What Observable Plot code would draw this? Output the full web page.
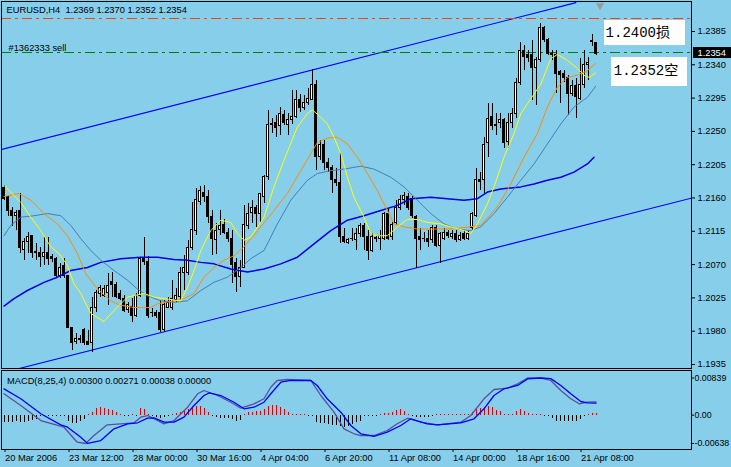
<!DOCTYPE html>
<html>
<head>
<meta charset="utf-8">
<script src="https://cdn.jsdelivr.net/npm/d3@7"></script>
<script src="https://cdn.jsdelivr.net/npm/@observablehq/plot@0.6"></script>
<style>
  html, body { margin: 0; padding: 0; background: #87CEEB; }
  #chart { width: 731px; height: 467px; overflow: hidden; }
  #chart svg { display: block; }
  #chart svg rect, #chart svg line { shape-rendering: crispEdges; }
</style>
</head>
<body>
<div id="chart"></div>
<script>
// ---------- DATA ----------
const symbol = "EURUSD,H4";
const opens = [1.2173,1.2161,1.2142,1.2136,1.2142,1.2090,1.2100,1.2108,1.2086,1.2086,
1.2080,1.2086,1.2080,1.2078,1.2055,1.2068,1.2054,1.1985,1.1965,1.1969,
1.1981,1.1965,1.1964,1.2012,1.2030,1.2028,1.2032,1.2047,1.2042,1.2030,
1.2024,1.2008,1.2013,1.2001,1.2028,1.2078,1.2074,1.2005,1.2005,1.2004,
1.1981,1.2012,1.2012,1.2022,1.2026,1.2059,1.2059,1.2093,1.2116,1.2154,
1.2167,1.2161,1.2134,1.2103,1.2117,1.2123,1.2113,1.2104,1.2072,1.2053,
1.2066,1.2122,1.2140,1.2146,1.2139,1.2162,1.2188,1.2259,1.2261,1.2257,
1.2272,1.2258,1.2265,1.2270,1.2293,1.2281,1.2288,1.2293,1.2313,1.2215,
1.2231,1.2207,1.2200,1.2184,1.2180,1.2107,1.2099,1.2104,1.2103,1.2112,
1.2122,1.2107,1.2089,1.2105,1.2105,1.2104,1.2138,1.2107,1.2126,1.2146,
1.2157,1.2162,1.2159,1.2134,1.2107,1.2104,1.2105,1.2103,1.2120,1.2095,
1.2105,1.2113,1.2107,1.2112,1.2103,1.2112,1.2104,1.2120,1.2136,1.2184,
1.2184,1.2234,1.2269,1.2257,1.2261,1.2265,1.2235,1.2261,1.2274,1.2316,
1.2358,1.2353,1.2353,1.2335,1.2346,1.2390,1.2373,1.2355,1.2353,1.2330,
1.2328,1.2322,1.2301,1.2311,1.2294,1.2312,1.2340,1.2372,1.2369];
const highs = [1.2177,1.2163,1.2147,1.2143,1.2166,1.2105,1.2113,1.2109,1.2099,1.2093,
1.2108,1.2107,1.2084,1.2080,1.2072,1.2078,1.2055,1.1985,1.1977,1.1974,
1.1984,1.1981,1.2026,1.2035,1.2042,1.2042,1.2058,1.2059,1.2046,1.2035,
1.2028,1.2019,1.2024,1.2031,1.2080,1.2107,1.2081,1.2011,1.2008,1.2022,
1.2022,1.2026,1.2049,1.2038,1.2066,1.2082,1.2103,1.2154,1.2173,1.2176,
1.2177,1.2170,1.2143,1.2126,1.2143,1.2131,1.2119,1.2116,1.2078,1.2076,
1.2150,1.2153,1.2157,1.2150,1.2166,1.2190,1.2278,1.2267,1.2272,1.2282,
1.2278,1.2274,1.2305,1.2305,1.2300,1.2299,1.2308,1.2334,1.2319,1.2238,
1.2238,1.2214,1.2204,1.2200,1.2220,1.2119,1.2105,1.2119,1.2119,1.2126,
1.2126,1.2116,1.2112,1.2109,1.2116,1.2140,1.2146,1.2127,1.2157,1.2163,
1.2167,1.2166,1.2162,1.2136,1.2119,1.2113,1.2116,1.2123,1.2123,1.2113,
1.2119,1.2116,1.2116,1.2116,1.2113,1.2116,1.2116,1.2140,1.2200,1.2194,
1.2242,1.2288,1.2288,1.2274,1.2274,1.2267,1.2274,1.2281,1.2322,1.2370,
1.2366,1.2359,1.2373,1.2350,1.2396,1.2392,1.2376,1.2359,1.2359,1.2332,
1.2332,1.2326,1.2319,1.2322,1.2349,1.2359,1.2350,1.2381,1.2370];
const lows = [1.2157,1.2135,1.2122,1.2116,1.2085,1.2076,1.2085,1.2078,1.2076,1.2066,
1.2069,1.2069,1.2073,1.2053,1.2051,1.2051,1.1984,1.1954,1.1962,1.1964,
1.1961,1.1961,1.1951,1.2005,1.2026,1.2026,1.2015,1.2026,1.2024,1.2022,
1.2005,1.2004,1.1992,1.1999,1.2026,1.2069,1.1997,1.1999,1.1997,1.1978,
1.1978,1.2011,1.2008,1.2019,1.2022,1.2035,1.2055,1.2089,1.2109,1.2150,
1.2154,1.2126,1.2082,1.2084,1.2109,1.2111,1.2100,1.2045,1.2032,1.2039,
1.2065,1.2117,1.2126,1.2120,1.2127,1.2153,1.2184,1.2247,1.2242,1.2245,
1.2258,1.2245,1.2259,1.2267,1.2276,1.2278,1.2285,1.2292,1.2197,1.2211,
1.2197,1.2194,1.2166,1.2176,1.2099,1.2099,1.2097,1.2101,1.2089,1.2107,
1.2089,1.2076,1.2086,1.2100,1.2089,1.2103,1.2103,1.2103,1.2123,1.2143,
1.2150,1.2143,1.2132,1.2065,1.2089,1.2100,1.2093,1.2099,1.2093,1.2072,
1.2103,1.2105,1.2104,1.2100,1.2101,1.2103,1.2103,1.2116,1.2134,1.2170,
1.2166,1.2215,1.2251,1.2245,1.2254,1.2227,1.2227,1.2254,1.2267,1.2312,
1.2332,1.2343,1.2292,1.2285,1.2343,1.2370,1.2353,1.2346,1.2301,1.2288,
1.2316,1.2272,1.2297,1.2267,1.2292,1.2308,1.2319,1.2365,1.2352];
const closes = [1.2159,1.2143,1.2135,1.2140,1.2092,1.2100,1.2107,1.2085,1.2087,1.2080,
1.2086,1.2077,1.2077,1.2055,1.2066,1.2055,1.1985,1.1964,1.1970,1.1968,
1.1964,1.1962,1.2012,1.2031,1.2038,1.2037,1.2041,1.2042,1.2026,1.2024,
1.2007,1.2015,1.2000,1.2028,1.2078,1.2073,1.2000,1.2004,1.2001,1.1981,
1.2015,1.2018,1.2024,1.2028,1.2059,1.2065,1.2093,1.2117,1.2157,1.2169,
1.2161,1.2134,1.2105,1.2116,1.2122,1.2113,1.2104,1.2070,1.2053,1.2066,
1.2124,1.2139,1.2146,1.2139,1.2165,1.2188,1.2258,1.2260,1.2254,1.2273,
1.2261,1.2265,1.2270,1.2293,1.2281,1.2289,1.2294,1.2313,1.2215,1.2231,
1.2207,1.2200,1.2184,1.2180,1.2107,1.2100,1.2103,1.2105,1.2112,1.2122,
1.2107,1.2089,1.2107,1.2106,1.2108,1.2138,1.2105,1.2124,1.2147,1.2157,
1.2163,1.2147,1.2135,1.2105,1.2103,1.2105,1.2101,1.2120,1.2095,1.2112,
1.2113,1.2108,1.2112,1.2103,1.2109,1.2105,1.2112,1.2138,1.2184,1.2181,
1.2231,1.2267,1.2257,1.2259,1.2266,1.2234,1.2261,1.2274,1.2316,1.2358,
1.2350,1.2349,1.2336,1.2346,1.2390,1.2373,1.2355,1.2353,1.2328,1.2326,
1.2322,1.2300,1.2311,1.2296,1.2313,1.2340,1.2342,1.2371,1.2354];

// moving averages (bar index, price)
const maFastIdx = [0,4.2,6.7,9.2,11.7,13.75,15.85,17.5,19.2,21.7,25,27.5,30.85,35,37.5,40,44.2,45.85,47.5,49.2,51.7,54.2,56.7,58.35,60,61.7,65,67.5,70,73.35,75.85,77.1,79.2,80.85,82.5,84.2,85.85,87.5,90,91.7,93.35,95.85,98.35,100.85,103.35,105.85,109.2,111.7,115,116.7,118.35,120.85,122.5,125,127.5,129.2,131.7,134.2,136.7,138.35,140.85,143.35,145,146.25,147.9];
const maFastVal = [1.2177,1.2154,1.2134,1.2116,1.2094,1.2085,1.2069,1.2044,1.2031,1.2004,1.1993,1.2008,1.2026,1.2031,1.2026,1.2024,1.2021,1.2039,1.2062,1.2089,1.2116,1.2130,1.2127,1.2112,1.2103,1.2107,1.2134,1.2175,1.2211,1.2256,1.2274,1.2279,1.2269,1.2260,1.2242,1.2220,1.2188,1.2161,1.2134,1.2112,1.2109,1.2109,1.2121,1.2131,1.2131,1.2127,1.2125,1.2121,1.2116,1.2112,1.2125,1.2152,1.2175,1.2215,1.2247,1.2274,1.2294,1.2314,1.2348,1.2354,1.2346,1.2335,1.2326,1.2323,1.2329];
const maMidIdx = [0,3.75,6.7,10,13.35,15.85,18.35,20.4,23.35,26.7,29.2,32.5,36.7,38.35,42.5,45,47.5,50,52.5,55,57.5,60,61.7,64.2,67.5,70.85,74.2,76.7,78.35,80.85,83.35,85.85,88.35,90.85,93.35,95.85,97.5,100,103.35,106.7,110.85,115,119.2,123.35,126.7,130,133.35,135.85,138.35,140.85,143.35,145.85,147.9];
const maMidVal = [1.2162,1.2166,1.2157,1.2139,1.2125,1.2109,1.2085,1.2058,1.2037,1.2021,1.2015,1.2012,1.2012,1.2017,1.2021,1.2024,1.2031,1.2053,1.2066,1.2076,1.2082,1.2094,1.2105,1.2121,1.2143,1.2166,1.2197,1.2220,1.2235,1.2241,1.2242,1.2233,1.2215,1.2193,1.2170,1.2143,1.2125,1.2121,1.2118,1.2118,1.2118,1.2120,1.2123,1.2148,1.2179,1.2215,1.2247,1.2283,1.2310,1.2323,1.2326,1.2332,1.2342];
const maSlowIdx = [0,1.7,4.2,7.5,10.85,14.2,16.7,19.2,21.7,24.2,27.5,30.85,33.35,35.85,39.2,42.5,45.85,49.2,52.5,55.85,59.2,61.7,65,68.35,71.7,75.85,78.35,81.7,85,89.2,92.5,96.7,100,103.35,106.7,110,113.35,116.7,119.2,122.5,125.85,129.2,132.5,135.85,139.2,142.5,145.85,147.9];
const maSlowVal = [1.2109,1.2123,1.2134,1.2136,1.2139,1.2136,1.2123,1.2105,1.2089,1.2076,1.2062,1.2049,1.2037,1.2028,1.2021,1.2019,1.2021,1.2035,1.2046,1.2053,1.2066,1.2078,1.2089,1.2125,1.2157,1.2184,1.2193,1.2197,1.2199,1.2203,1.2199,1.2188,1.2175,1.2157,1.2139,1.2125,1.2118,1.2116,1.2121,1.2139,1.2161,1.2184,1.2206,1.2233,1.2260,1.2283,1.2296,1.2311];
const maLongIdx = [0,2.5,5.85,10,13.35,16.7,20.85,24.2,29.2,34.2,38.35,42.5,45.85,49.2,52.5,56.7,60.85,65,69.2,73.35,77.5,81.7,85.85,90,94.2,98.35,101.7,106.7,110.85,115,118.35,120.85,124.2,129.2,132.5,135.85,139.2,142.5,145.85,147.5];
const maLongVal = [1.2014,1.2024,1.2035,1.2046,1.2053,1.2062,1.2066,1.2073,1.2078,1.2080,1.2080,1.2077,1.2076,1.2073,1.2071,1.2064,1.2060,1.2064,1.2071,1.2080,1.2098,1.2116,1.2130,1.2136,1.2143,1.2150,1.2159,1.2161,1.2159,1.2157,1.2159,1.2168,1.2172,1.2175,1.2179,1.2184,1.2188,1.2195,1.2206,1.2215];

// trend channel anchors (bar index, price)
const channelUpperIdx = [-1, 143];
const channelUpperVal = [1.2225, 1.2424];
const channelLowerIdx = [-1, 172];
const channelLowerVal = [1.1923, 1.2160];

// order lines
const stopLevel = 1.2402;
const orderLevel = 1.2356;
const orderLabel = "#1362333 sell";
const noteTexts = ["1.2400损", "1.2352空"];

// MACD(8,25,4)
const macdParams = [8, 25, 4];
const macdIdx = [0,4.2,9.2,15,18.3,20.4,22.5,25.8,29.2,32.5,34.2,35.9,37.5,40,42.5,45.9,48.4,50,53.4,56.7,59.2,62.5,65,66.7,68.3,70.9,76.7,79.2,82.5,85,87.5,89.2,92.5,95.8,98.3,100.9,104.2,108.4,114.2,116.7,120,122.5,125.9,128.4,130.9,134.2,136.7,139.2,141.7,143.8,145.8,148];
const macdVal = [0.00483,0.00219,-0.00120,-0.00271,-0.00609,-0.00638,-0.00458,-0.00217,-0.00194,-0.00171,-0.00045,-0.00007,-0.00081,-0.00194,-0.00120,0.00180,0.00483,0.00557,0.00444,0.00293,0.00158,0.00257,0.00370,0.00631,0.00783,0.00805,0.00783,0.00444,0.00068,-0.00307,-0.00419,-0.00458,-0.00458,-0.00345,-0.00194,-0.00068,-0.00158,-0.00217,-0.00158,-0.00007,0.00370,0.00580,0.00609,0.00708,0.00839,0.00839,0.00783,0.00557,0.00370,0.00257,0.00293,0.00300];
const signalIdx = [0,4.2,9.2,14.2,15.9,19.2,20.9,24.2,27.5,30.9,33.4,35.9,37.5,40,42.5,45,47.5,50,51.3,54.2,57.5,60,62.5,65,66.7,69.2,71.7,76.7,78.3,80.8,84.2,86.7,89.2,92.5,95.8,99.2,101.7,105.8,108.4,114.2,117.5,120,122.5,125,128.4,130.9,134.2,136.7,139.2,141.7,144.2,145.8,148];
const signalVal = [0.00595,0.00370,0.00032,-0.00217,-0.00271,-0.00496,-0.00638,-0.00571,-0.00307,-0.00194,-0.00171,-0.00068,-0.00059,-0.00158,-0.00158,-0.00045,0.00219,0.00444,0.00505,0.00444,0.00293,0.00144,0.00180,0.00293,0.00483,0.00744,0.00783,0.00783,0.00670,0.00370,0.00068,-0.00232,-0.00419,-0.00480,-0.00383,-0.00232,-0.00081,-0.00194,-0.00217,-0.00171,-0.00081,0.00144,0.00444,0.00595,0.00670,0.00820,0.00839,0.00825,0.00670,0.00483,0.00309,0.00280,0.00271];
const macdHist = [-0.00158,-0.00158,-0.00158,-0.00135,-0.00158,-0.00158,-0.00135,-0.00113,-0.00090,
-0.00023,-0.00023,-0.00023,-0.00023,-0.00023,-0.00023,-0.00023,
-0.00135,-0.00180,-0.00180,-0.00135,-0.00090,
0.00023,0.00068,0.00158,0.00180,0.00158,0.00135,0.00113,0.00068,0.00023,
-0.00023,-0.00023,0.00023,-0.00023,
0.00158,0.00135,
0.00023,-0.00023,-0.00045,-0.00068,-0.00045,-0.00023,
0.00023,0.00045,0.00068,0.00090,0.00135,0.00180,0.00203,0.00203,0.00158,0.00068,
-0.00023,-0.00045,-0.00068,-0.00068,-0.00068,-0.00090,-0.00135,-0.00113,
0.00023,0.00068,0.00068,0.00090,0.00090,0.00135,0.00203,0.00226,0.00226,0.00180,0.00135,0.00068,0.00023,
0.00023,0.00023,0.00023,-0.00023,-0.00023,
-0.00158,-0.00180,-0.00180,-0.00203,-0.00226,-0.00226,-0.00248,-0.00271,-0.00248,-0.00203,-0.00158,-0.00135,
-0.00023,-0.00023,-0.00023,-0.00023,
0.00023,0.00045,0.00045,0.00068,0.00113,0.00135,0.00090,0.00023,
-0.00023,-0.00045,-0.00045,-0.00045,-0.00045,-0.00023,0.00023,
0.00023,0.00023,0.00023,0.00023,0.00023,0.00023,0.00023,0.00023,
0.00068,0.00135,0.00158,0.00180,0.00203,0.00180,0.00113,0.00090,0.00023,0.00023,0.00023,
0.00090,0.00135,0.00090,0.00045,0.00023,0.00023,0.00023,-0.00023,
-0.00023,-0.00068,-0.00135,-0.00135,-0.00135,-0.00135,-0.00135,-0.00135,-0.00090,-0.00023,0.00023,
0.00045,0.00038];

// axis ticks
const priceTicks = [1.1935,1.1980,1.2025,1.2070,1.2115,1.2160,1.2205,1.2250,1.2295,1.2340,1.2385];
const macdTicks = [-0.00638, 0, 0.00839];
const macdTickLabels = ["-0.00638", "0.00", "0.00839"];
const timeTickIdx = [0,16,32,48,64,80,96,112,128,144];
const timeTickLabels = ["20 Mar 2006","23 Mar 12:00","28 Mar 00:00","30 Mar 16:00","4 Apr 04:00","6 Apr 20:00","11 Apr 08:00","14 Apr 00:00","18 Apr 16:00","21 Apr 08:00"];

// ---------- CHART ----------
const bars = opens.map((o, i) => ({i, o, h: highs[i], l: lows[i], c: closes[i]}));
const n = bars.length;
const last = bars[n - 1];
const pts = (idx, val) => idx.map((x, k) => ({x, y: val[k]}));
const xDomain = [-0.625, 171.875];
const sans = "'Liberation Sans', Arial, sans-serif";
const mono = "'Liberation Mono', 'DejaVu Sans Mono', 'Noto Sans CJK SC', monospace";
const bg = "#87CEEB";
const dashDot = "10,4,3,4";
const f4 = d => d.toFixed(4);
const f5 = d3.format(".5f");

const noteLayout = [
  {text: noteTexts[0], x1: 150.1, x2: 170.4, top: 1.2400, bottom: 1.2366, tx: 150.4, ty: 1.2377},
  {text: noteTexts[1], x1: 151.9, x2: 170.9, top: 1.2350, bottom: 1.2311, tx: 152.45, ty: 1.2326}
];

const header = `${symbol}\u00a0\u00a0${f4(last.o)} ${f4(last.h)} ${f4(last.l)} ${f4(last.c)}`;

const main = Plot.plot({
  width: 731, height: 369,
  marginLeft: 1, marginRight: 40, marginTop: 1, marginBottom: 1,
  style: {background: bg, color: "black", fontFamily: sans, fontSize: "9.3px", overflow: "visible"},
  x: {domain: xDomain, axis: null},
  y: {domain: [1.19296, 1.24255], axis: null},
  marks: [
    Plot.line(pts(channelUpperIdx, channelUpperVal), {x: "x", y: "y", stroke: "#0000ff", strokeWidth: 1.1, clip: true}),
    Plot.line(pts(channelLowerIdx, channelLowerVal), {x: "x", y: "y", stroke: "#0000ff", strokeWidth: 1.1, clip: true}),
    Plot.ruleY([stopLevel], {stroke: "#ff4000", strokeDasharray: dashDot}),
    Plot.ruleY([orderLevel], {stroke: "#008000", strokeDasharray: dashDot}),
    Plot.ruleX(bars, {x: "i", y1: "l", y2: "h", stroke: "black", strokeWidth: 1}),
    Plot.rect(bars, {x1: d => d.i - 0.25, x2: d => d.i + 0.25, y1: "o", y2: "c",
      fill: d => d.c > d.o ? "white" : "black", stroke: "black", strokeWidth: 1, inset: 0}),
    Plot.line(pts(maLongIdx, maLongVal), {x: "x", y: "y", stroke: "#0000dd", strokeWidth: 1.5}),
    Plot.line(pts(maSlowIdx, maSlowVal), {x: "x", y: "y", stroke: "#4a7db5", strokeWidth: 1}),
    Plot.line(pts(maMidIdx, maMidVal), {x: "x", y: "y", stroke: "#ff8c00", strokeWidth: 1}),
    Plot.line(pts(maFastIdx, maFastVal), {x: "x", y: "y", stroke: "#ffff00", strokeWidth: 1}),
    Plot.text([header], {frameAnchor: "top-left", dx: 5, dy: 5, lineAnchor: "top", textAnchor: "start", text: d => d}),
    Plot.text([{label: orderLabel, level: orderLevel}], {y: "level", text: "label", frameAnchor: "left", dx: 7, dy: -2, lineAnchor: "bottom", textAnchor: "start"}),
    Plot.rect(noteLayout, {x1: "x1", x2: "x2", y1: "top", y2: "bottom", fill: "white", inset: 0}),
    Plot.text(noteLayout, {x: "tx", y: "ty", text: "text", textAnchor: "start", lineAnchor: "bottom", fontFamily: mono, fontSize: 14, fill: "black"}),
    Plot.dot([n], {x: d => d, frameAnchor: "top", dy: 4, symbol: "triangle", rotate: 180, r: 3, fill: "#9a9a9a", stroke: "none"}),
    Plot.axisY(priceTicks, {anchor: "right", tickSize: 3, tickPadding: 3, tickFormat: f4, label: null}),
    Plot.ruleY([last.c], {x1: xDomain[1] + 0.5, x2: xDomain[1] + 10, stroke: "black", strokeWidth: 11, dy: -1.5}),
    Plot.text([last.c], {y: d => d, x: xDomain[1] + 1.5, text: f4, fill: "white", textAnchor: "start", dy: -1.5}),
    Plot.frame({stroke: "black"})
  ]
});

const macdLabel = `MACD(${macdParams.join(",")}) ${f5(macdVal[macdVal.length - 1])} ${f5(signalVal[signalVal.length - 1])} ${f5(Math.max(0, macdHist[n - 1]))} ${f5(Math.max(0, -macdHist[n - 1]))}`;

const macdPlot = Plot.plot({
  width: 731, height: 98,
  marginLeft: 1, marginRight: 40, marginTop: 1, marginBottom: 18,
  style: {background: bg, color: "black", fontFamily: sans, fontSize: "9.3px", overflow: "visible"},
  x: {domain: xDomain, axis: null},
  y: {domain: [-0.007736, 0.010081], axis: null},
  marks: [
    Plot.ruleX(macdHist, {x: (d, i) => i, y1: 0, y2: d => d, stroke: d => d > 0 ? "#e00000" : "black", strokeWidth: 1}),
    Plot.line(pts(macdIdx, macdVal), {x: "x", y: "y", stroke: "#5a4f9c", strokeWidth: 1.3}),
    Plot.line(pts(signalIdx, signalVal), {x: "x", y: "y", stroke: "#0000ff", strokeWidth: 1.3}),
    Plot.text([macdLabel], {frameAnchor: "top-left", dx: 5.5, dy: 6.4, lineAnchor: "top", textAnchor: "start", text: d => d}),
    Plot.axisY(macdTicks, {anchor: "right", tickSize: 2, tickPadding: 1, fontSize: 8.8, tickFormat: d => macdTickLabels[macdTicks.indexOf(d)], label: null}),
    Plot.axisX(timeTickIdx, {anchor: "bottom", tickSize: 3, tickPadding: 2, tickFormat: d => timeTickLabels[timeTickIdx.indexOf(d)], textAnchor: "start", dx: 1, label: null}),
    Plot.frame({stroke: "black"})
  ]
});

const root = document.getElementById("chart");
root.appendChild(main);
root.appendChild(macdPlot);
</script>
</body>
</html>
